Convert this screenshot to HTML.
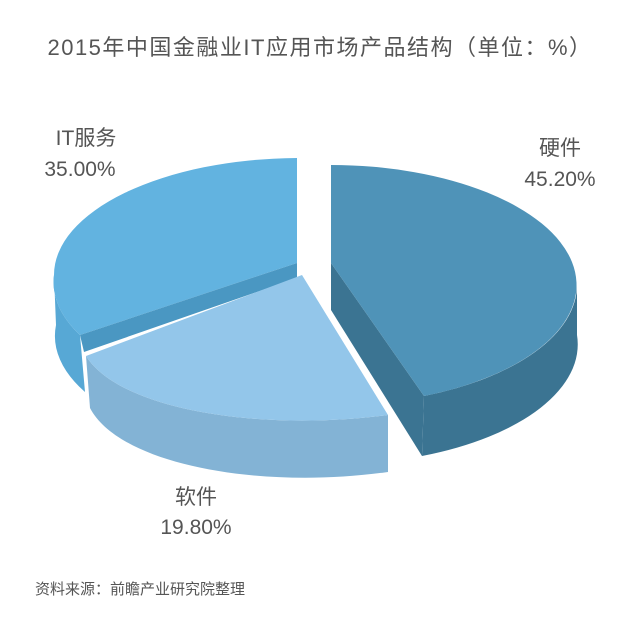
<!DOCTYPE html>
<html><head><meta charset="utf-8"><style>
body{margin:0;background:#fff;}
svg text{font-family:"Liberation Sans","Noto Sans CJK SC",sans-serif;fill:#555;}
</style></head><body>
<svg width="640" height="630" viewBox="0 0 640 630">
<text x="320" y="55" font-size="22" text-anchor="middle" fill="#4a4a4a" letter-spacing="1.5">2015年中国金融业IT应用市场产品结构（单位：%）</text>
<!-- IT services -->
<path d="M54,275 A246,117 0 0 0 80,335 L85,392 A246,117 0 0 1 56,325 Z" fill="#57a8d5"/>
<path d="M297,158 L297,263 L80,335 A246,117 0 0 1 54,275 A246,117 0 0 1 297,158 Z" fill="#62b3e0"/>
<path d="M297,263 L297,278 L84,352 L80,335 Z" fill="#4a97c2"/>
<!-- Hardware -->
<path d="M331,263 L424,396 L422,456 L331,310 Z" fill="#3b7492"/>
<path d="M577,285 A246,120 0 0 1 424,396 L422,456 A246,120 0 0 0 577,335 Z" fill="#3b7492"/>
<path d="M331,165 A246,120 0 0 1 424,396 L331,263 Z" fill="#4f93b8"/>
<!-- Software -->
<path d="M86,356 C120,410 260,432 388,415 L388,472 C260,490 120,465 90,408 Z" fill="#83b3d5"/>
<path d="M302,275 L388,415 C260,432 120,410 86,356 Z" fill="#93c6ea"/>
<text x="86" y="145" font-size="21" text-anchor="middle">IT服务</text>
<text x="80" y="176" font-size="21" text-anchor="middle">35.00%</text>
<text x="560" y="155" font-size="21" text-anchor="middle">硬件</text>
<text x="560" y="186" font-size="21" text-anchor="middle">45.20%</text>
<text x="196" y="504" font-size="21" text-anchor="middle">软件</text>
<text x="196" y="534" font-size="21" text-anchor="middle">19.80%</text>
<text x="35" y="594" font-size="15" fill="#555">资料来源：前瞻产业研究院整理</text>
</svg>
</body></html>
